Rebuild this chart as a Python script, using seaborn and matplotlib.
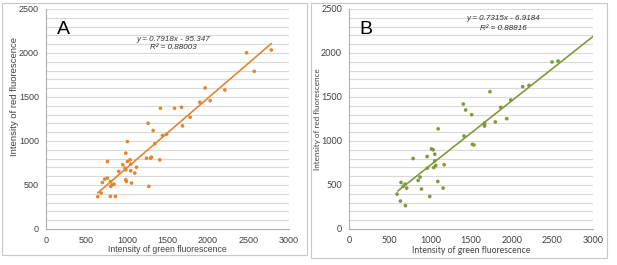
import numpy as np
import pandas as pd
import matplotlib
matplotlib.use("Agg")
import matplotlib.pyplot as plt
import seaborn as sns
from matplotlib.patches import Rectangle

# panel A: green vs red fluorescence
green_a = [639, 680, 696, 725, 758, 758, 795, 795, 799, 816, 840, 857, 898, 948,
           985, 985, 985, 993, 1005, 1005, 1038, 1046, 1046, 1055, 1096, 1117, 976,
           1240, 1261, 1269, 1290, 1302, 1323, 1343, 1405, 1413, 1438, 1488, 1586,
           1673, 1685, 1780, 1899, 1965, 2027, 2208, 2476, 2571, 2781]
red_a = [367, 408, 529, 567, 578, 767, 540, 370, 484, 503, 510, 370, 654, 730,
         862, 673, 559, 540, 994, 767, 786, 737, 662, 522, 635, 703, 692,
         805, 1202, 484, 805, 816, 1119, 968, 786, 1372, 1062, 1077, 1372,
         1383, 1172, 1270, 1440, 1603, 1459, 1580, 2003, 1792, 2034]

# panel B
green_b = [591, 632, 640, 665, 689, 694, 710, 788, 850, 874, 891, 960, 964, 993,
           1014, 1034, 1042, 1055, 1055, 1067, 1092, 1096, 1157, 1170, 1405, 1414,
           1434, 1508, 1516, 1537, 1733, 1666, 1666, 1666, 1799, 1865, 1939, 1988,
           2136, 2213, 2496, 2570]
red_b = [397, 318, 529, 484, 510, 265, 465, 801, 552, 590, 454, 824, 692, 370,
         911, 900, 699, 850, 775, 722, 540, 1138, 465, 730, 1420, 1057,
         1352, 1299, 962, 955, 1560, 1205, 1187, 1170, 1216, 1383, 1253, 1466,
         1617, 1633, 1898, 1909]

fit_a = (0.7918, -95.347)
fit_b = (0.7315, -6.9184)
eq_a = ["y = 0.7918x - 95.347", "R² = 0.88003"]
eq_b = ["y = 0.7315x - 6.9184", "R² = 0.88816"]

orange = "#e3862f"
olive = "#7f9a3c"

sns.set_style("white")
plt.rcParams['font.family'] = ['Liberation Sans', 'DejaVu Sans']

fig = plt.figure(figsize=(6.17, 2.65), dpi=100)

# outer frames around each panel
fig.patches.append(Rectangle((2 / 617, 1 - 255 / 265), 305 / 617, 252 / 265,
                             transform=fig.transFigure, fill=False,
                             edgecolor="#c8c8c8", lw=0.8))
fig.patches.append(Rectangle((311 / 617, 1 - 258 / 265), 296 / 617, 255 / 265,
                             transform=fig.transFigure, fill=False,
                             edgecolor="#c8c8c8", lw=0.8))

ax_a = fig.add_axes([46 / 617, 1 - 229 / 265, 243 / 617, 220 / 265])
ax_b = fig.add_axes([349 / 617, 1 - 229 / 265, 244 / 617, 220 / 265])

panels = [
    (ax_a, green_a, red_a, fit_a, eq_a, orange, "A", (min(green_a), max(green_a)),
     (1568, 2150, 2060), 'Liberation Sans', 6.2, 6.8, (-0.112, 0.6), -0.072),
    (ax_b, green_b, red_b, fit_b, eq_b, olive, "B", (600, 3000),
     (1893, 2390, 2275), 'Lato', 6.2, 5.8, (-0.116, 0.5), -0.076),
]

for ax, gx, ry, fit, eq, col, letter, xr, eqpos, fam, xls, yls, ylc, xly in panels:
    df = pd.DataFrame({"green": gx, "red": ry})
    ax.set_xlim(0, 3000)
    ax.set_ylim(0, 2500)
    for yv in range(100, 2501, 100):
        ax.axhline(yv, color="#d9d9d9", lw=0.8, zorder=0)
    sns.scatterplot(data=df, x="green", y="red", ax=ax, color=col, s=7,
                    edgecolor="none", zorder=3)
    xs = np.array(xr)
    ax.plot(xs, fit[0] * xs + fit[1], color=col, lw=1.2, zorder=2)
    ax.set_xticks(range(0, 3001, 500))
    ax.set_yticks(range(0, 2501, 500))
    ax.tick_params(labelsize=6.5, length=3, color="#b0b0b0", labelcolor="#404040",
                   direction="out", pad=2)
    for lab in ax.get_xticklabels() + ax.get_yticklabels():
        lab.set_family(fam)
    ax.set_xlabel("Intensity of green fluorescence", fontsize=xls, color="#404040",
                  family=fam)
    ax.set_ylabel("Intensity of red fluorescence", fontsize=yls, color="#404040",
                  family=fam)
    ax.xaxis.set_label_coords(0.5, xly)
    ax.yaxis.set_label_coords(*ylc)
    for s in ["top", "right"]:
        ax.spines[s].set_visible(False)
    for s in ["left", "bottom"]:
        ax.spines[s].set_color("#b0b0b0")
        ax.spines[s].set_linewidth(0.8)
    ax.text(130, 2270, letter, fontsize=14, color="black", va="center",
            family='Liberation Sans')
    ax.text(eqpos[0], eqpos[1], eq[0], fontsize=5.8, style="italic", ha="center",
            va="center", color="#303030")
    ax.text(eqpos[0], eqpos[2], eq[1], fontsize=5.8, style="italic", ha="center",
            va="center", color="#303030")

fig.savefig("out.png", dpi=100)
